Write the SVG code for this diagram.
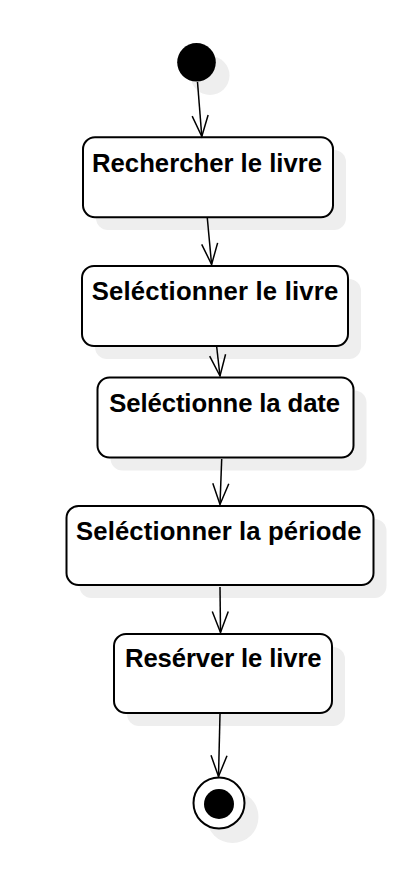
<svg xmlns="http://www.w3.org/2000/svg" width="406" height="886" viewBox="0 0 406 886">
<defs>
<style>
.node{fill:#ffffff;stroke:#000000;stroke-width:2}
.shadow{fill:#eeeeee;stroke:none}
.lbl{font-family:"Liberation Sans",Arial,sans-serif;font-weight:bold;font-size:25.7px;fill:#000000;text-anchor:middle}
.edge{fill:none;stroke:#000000;stroke-width:1.5}
</style>
<marker id="open" markerUnits="userSpaceOnUse" markerWidth="30" markerHeight="30" viewBox="-25 -12 30 24" refX="0" refY="0" orient="auto">
<path d="M-21,-8 L0,0 L-21,8" fill="none" stroke="#000000" stroke-width="1.5"/>
</marker>
</defs>
<rect width="406" height="886" fill="#ffffff"/>
<g id="start">
<circle class="shadow" cx="210" cy="75.5" r="19.5"/>
<circle cx="196.5" cy="62.3" r="19.3" fill="#000000"/>
</g>
<g id="n1">
<rect class="shadow" x="96" y="150" width="250" height="80" rx="12"/>
<rect class="node" x="83" y="137.3" width="250" height="80" rx="12"/>
<text class="lbl" x="207" y="171.7" textLength="230" lengthAdjust="spacing">Rechercher le livre</text>
</g>
<g id="n2">
<rect class="shadow" x="95" y="279" width="266" height="80" rx="12"/>
<rect class="node" x="82" y="266" width="266" height="80" rx="12"/>
<text class="lbl" x="215" y="299.8" textLength="246.6" lengthAdjust="spacing">Seléctionner le livre</text>
</g>
<g id="n3">
<rect class="shadow" x="110.5" y="390.5" width="256" height="80" rx="12"/>
<rect class="node" x="97.5" y="377.5" width="256" height="80" rx="12"/>
<text class="lbl" x="224.7" y="411.7" textLength="230.7" lengthAdjust="spacing">Seléctionne la date</text>
</g>
<g id="n4">
<rect class="shadow" x="79.5" y="519" width="307" height="79" rx="12"/>
<rect class="node" x="66.5" y="506" width="307" height="79" rx="12"/>
<text class="lbl" x="218.8" y="539.5" textLength="285.7" lengthAdjust="spacing">Seléctionner la période</text>
</g>
<g id="n5">
<rect class="shadow" x="127" y="647" width="218" height="79" rx="12"/>
<rect class="node" x="114" y="634" width="218" height="79" rx="12"/>
<text class="lbl" x="223.3" y="667" textLength="196.7" lengthAdjust="spacing">Resérver le livre</text>
</g>
<g id="end">
<circle class="shadow" cx="232.5" cy="817" r="26"/>
<circle cx="219" cy="803" r="25.5" fill="#ffffff" stroke="#000000" stroke-width="2"/>
<circle cx="219" cy="804" r="15" fill="#000000"/>
</g>
<g id="edges">
<line class="edge" x1="197.5" y1="82" x2="201.8" y2="136.5" marker-end="url(#open)"/>
<line class="edge" x1="207.3" y1="218" x2="211.6" y2="264.5" marker-end="url(#open)"/>
<line class="edge" x1="216.7" y1="347" x2="220" y2="376" marker-end="url(#open)"/>
<line class="edge" x1="221.7" y1="459" x2="220" y2="504.5" marker-end="url(#open)"/>
<line class="edge" x1="220" y1="587" x2="220.5" y2="632.5" marker-end="url(#open)"/>
<line class="edge" x1="220" y1="714" x2="218.5" y2="776.5" marker-end="url(#open)"/>
</g>
</svg>
